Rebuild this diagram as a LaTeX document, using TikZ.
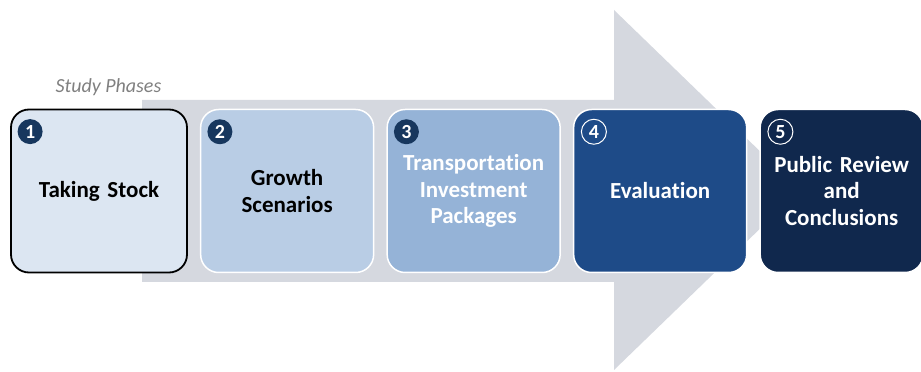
\documentclass[tikz,border=0pt]{standalone}
\usepackage{fontspec}
\setmainfont{Carlito}[Ligatures=NoCommon]
\usepackage{tikz}
\usetikzlibrary{positioning}
\definecolor{arrowgrey}{HTML}{D5D8DF}
\definecolor{labelgrey}{HTML}{808080}
\definecolor{phaseA}{HTML}{DCE6F2}
\definecolor{phaseB}{HTML}{B9CDE5}
\definecolor{phaseC}{HTML}{95B3D7}
\definecolor{phaseD}{HTML}{1E4B88}
\definecolor{phaseE}{HTML}{10284D}
\definecolor{navy}{HTML}{17375E}

\begin{document}
\begin{tikzpicture}[x=1pt,y=1pt]
\tikzstyle{phase}=[draw=white, line width=1.5pt, rounded corners=18pt, minimum width=173pt, minimum height=163pt, text width=168pt, inner sep=0pt, align=center, text=white, font=\bfseries\fontsize{23}{26.5}\selectfont]
\tikzstyle{num}=[circle, fill=navy, text=white, minimum size=25pt, inner sep=0pt, font=\bfseries\fontsize{20}{20}\selectfont]
\tikzstyle{numring}=[circle, draw=white, line width=1pt, text=white, minimum size=25pt, inner sep=0pt, font=\bfseries\fontsize{20}{20}\selectfont]
\useasboundingbox (0,0) rectangle (921,372);
% big arrow behind the phases
\fill[arrowgrey] (142,90) -- (614,90) -- (614,2) -- (800,182) -- (614,362) -- (614,272) -- (142,272) -- cycle;
\node[anchor=base west, text=labelgrey, font=\itshape\fontsize{20}{20}\selectfont] (title) at (52,279) {Study Phases};

\node[phase, fill=phaseA, draw=black, line width=1.8pt, minimum width=176pt, text=black] (p1) at (99,181) {Taking Stock};
\node[phase, fill=phaseB, text=black] (p2) [right=12pt of p1] {Growth\\Scenarios};
\node[phase, fill=phaseC] (p3) [right=12pt of p2] {Transportation\\Investment\\Packages};
\node[phase, fill=phaseD] (p4) [right=12pt of p3] {Evaluation};
\node[phase, fill=phaseE, minimum width=163pt, text width=160pt] (p5) [right=12pt of p4] {Public Review\\and\\Conclusions};

\node[num] (n1) at ([xshift=20pt,yshift=-23pt]p1.north west) {1};
\node[num] (n2) at ([xshift=20pt,yshift=-23pt]p2.north west) {2};
\node[num] (n3) at ([xshift=20pt,yshift=-23pt]p3.north west) {3};
\node[numring] (n4) at ([xshift=21pt,yshift=-23pt]p4.north west) {4};
\node[numring] (n5) at ([xshift=21pt,yshift=-23pt]p5.north west) {5};
%\draw[thick] (p1.east) to (p2.west);

\end{tikzpicture}
\end{document}
